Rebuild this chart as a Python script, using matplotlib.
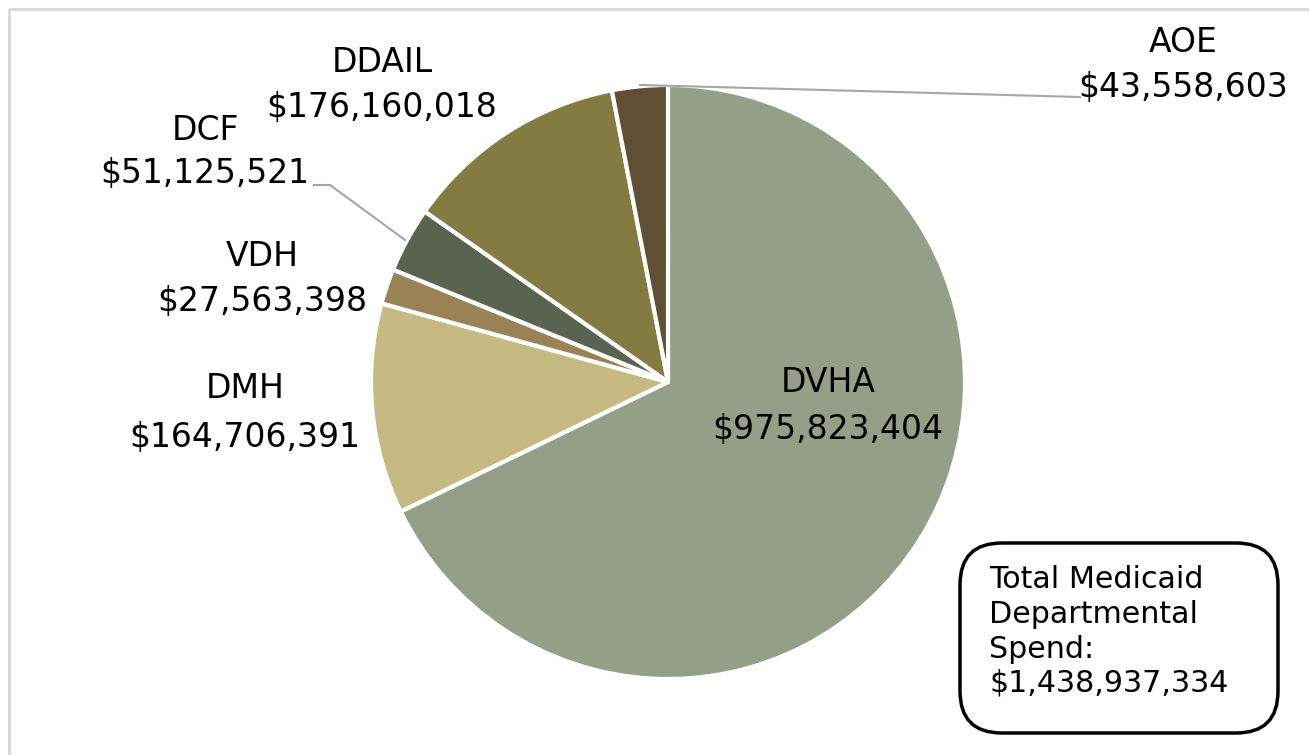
import matplotlib
matplotlib.use("Agg")
import matplotlib.pyplot as plt
from matplotlib.patches import FancyBboxPatch
from matplotlib.lines import Line2D

plt.rcParams["font.family"] = ["DejaVu Sans"]

departments = ["DVHA", "DMH", "VDH", "DCF", "DDAIL", "AOE"]
spend = [975823404, 164706391, 27563398, 51125521, 176160018, 43558603]
colors = ["#959f87", "#c4ba82", "#9a8257", "#596350", "#847b43", "#5f4f34"]
total_label = "$1,438,937,334"

W, H = 1309, 755
fig = plt.figure(figsize=(W / 100, H / 100), dpi=100)
fig.patch.set_facecolor("white")

def fx(px):
    return px / W

def fy(py):
    return 1 - py / H

# outer chart border (light gray) - only top and left visible
fig.add_artist(Line2D([fx(9), fx(9), fx(1320)], [fy(800), fy(9), fy(9)],
                      transform=fig.transFigure, color="#d9d9d9", linewidth=2))

cx, cy, r = 668, 382, 297
ax = fig.add_axes([fx(cx - r), fy(cy + r), (2 * r) / W, (2 * r) / H])
ax.pie(spend, colors=colors, startangle=90, counterclock=False, radius=1.0,
       wedgeprops=dict(edgecolor="white", linewidth=3, joinstyle="round"))
ax.set_xlim(-1, 1)
ax.set_ylim(-1, 1)
ax.set_aspect("auto")
ax.axis("off")

fs = 23.8
label_pos = {
    "DVHA": (828, 383, 430),
    "DMH": (245, 388, 437),
    "VDH": (262, 256, 302),
    "DCF": (205, 130, 174),
    "DDAIL": (382, 62, 107),
    "AOE": (1183, 42, 88),
}
for name, val in zip(departments, spend):
    x, y1, y2 = label_pos[name]
    fig.text(fx(x), fy(y1), name, ha="center", va="center", fontsize=fs,
             color="black")
    fig.text(fx(x), fy(y2), "${:,}".format(val), ha="center", va="center",
             fontsize=fs, color="black")

# leader lines
fig.add_artist(Line2D([fx(640), fx(1080)], [fy(85), fy(97)],
                      transform=fig.transFigure, color="#a6a6a6", linewidth=1.5))
fig.add_artist(Line2D([fx(405), fx(330), fx(314)], [fy(240), fy(185), fy(185)],
                      transform=fig.transFigure, color="#a6a6a6", linewidth=1.5))

# total box
bx0, by0, bx1, by1 = 960, 543, 1278, 733
box = FancyBboxPatch((fx(bx0), fy(by1)), fx(bx1 - bx0), (by1 - by0) / H,
                     boxstyle="round,pad=0,rounding_size=0.032",
                     transform=fig.transFigure, facecolor="white",
                     edgecolor="black", linewidth=2.5,
                     mutation_aspect=W / H)
fig.add_artist(box)
lines = ["Total Medicaid", "Departmental", "Spend:", total_label]
for i, t in enumerate(lines):
    fig.text(fx(989), fy(580 + i * 34.5), t, ha="left", va="center",
             fontsize=21.7, color="black")

fig.savefig("out.png", dpi=100, facecolor="white")
